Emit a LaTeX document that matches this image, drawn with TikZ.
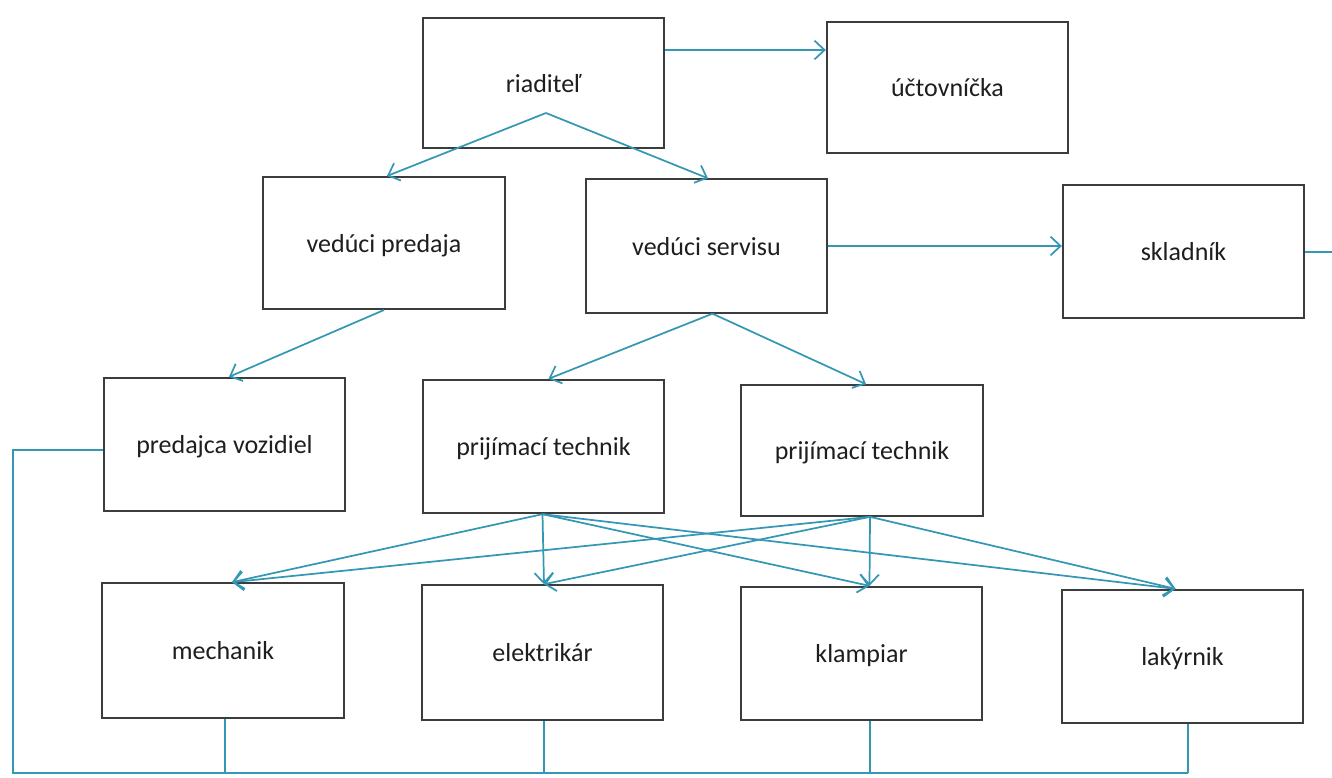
\documentclass[tikz,border=0pt]{standalone}
\usepackage{fontspec}
\setmainfont{Carlito}
\usetikzlibrary{arrows.meta,calc}
\definecolor{conn}{RGB}{52,152,180}
\definecolor{boxline}{RGB}{60,60,60}
\definecolor{txt}{RGB}{30,30,30}
\tikzset{
  orgbox/.style={draw=boxline, line width=1.5pt, fill=white, minimum width=181pt, minimum height=99pt,
    inner sep=0pt, text=txt, font=\fontsize{19.5}{23}\selectfont, text height=1.6em, text depth=0.2em},
  link/.style={draw=conn, line width=1.3pt},
  arr/.style={link, -{Straight Barb[length=7.5pt,width=14pt,line width=1.3pt]}}
}
\begin{document}
\begin{tikzpicture}[x=0.75pt,y=-0.75pt]
\useasboundingbox (0,0) rectangle (1332,778);
% boxes
\node[orgbox, minimum height=97.5pt] (riad) at (543.5,83) {riaditeľ};
\node[orgbox, minimum height=98pt] (ucto) at (947.5,87.5) {účtovníčka};
\node[orgbox] (vp) at (384,243) {vedúci predaja};
\node[orgbox, minimum height=100pt] (vs) at (706.5,246) {vedúci servisu};
\node[orgbox, minimum height=100pt] (skl) at (1183.5,251.5) {skladník};
\node[orgbox, minimum height=100pt] (pv) at (224.5,444.5) {predajca vozidiel};
\node[orgbox, minimum height=100pt] (pt1) at (543.5,446.5) {prijímací technik};
\node[orgbox, minimum height=98pt] (pt2) at (862,450.5) {prijímací technik};
\node[orgbox, minimum height=101pt] (mech) at (223,650.5) {mechanik};
\node[orgbox, minimum height=101pt] (elek) at (542.5,652.5) {elektrikár};
\node[orgbox, minimum height=100pt] (klamp) at (861.5,653.5) {klampiar};
\node[orgbox, minimum height=100pt] (lak) at (1182.5,656.5) {lakýrnik};

% helper coordinates
\coordinate (riadapex) at ($(riad.south)+(2.5,-36)$);
\coordinate (vsfoot) at ($(vs.south)+(6,0)$);
\coordinate (pt1foot) at ($(pt1.south)+(-1,0)$);
\coordinate (pt2foot) at ($(pt2.south)+(8,0)$);
\coordinate (busL) at (13,773);
\coordinate (busR) at (1188,773);
\coordinate (sklout) at (1332,252);
\coordinate (mechfoot) at ($(mech.south)+(2,0)$);
\coordinate (elekfoot) at ($(elek.south)+(1.5,0)$);
\coordinate (klampfoot) at ($(klamp.south)+(8.5,0)$);

% top level
\draw[arr] (riad.east |- 0,50) -- (ucto.west |- 0,50);
\draw[arr] (riadapex) -- ($(vp.north)+(3,0)$);
\draw[arr] (riadapex) -- ($(vs.north)+(1.5,0)$);
\draw[arr] (vp.south) -- ($(pv.north)+(4.5,0)$);
\draw[arr] (vsfoot) -- ($(pt1.north)+(5,0)$);
\draw[arr] (vsfoot) -- ($(pt2.north)+(4,0)$);
\draw[arr] (vs.east) -- (skl.west |- vs.east);
\draw[link] (skl.east |- sklout) -- (sklout);

% technicians to workers
\draw[arr] (pt1foot) -- ($(mech.north)+(9,0)$);
\draw[arr] (pt1foot) -- ($(elek.north)+(1.5,0)$);
\draw[arr] (pt1foot) -- ($(klamp.north)+(8,0)$);
\draw[arr] (pt1foot) -- ($(lak.north)+(-7,0)$);
\draw[arr] (pt2foot) -- ($(mech.north)+(9,0)$);
\draw[arr] (pt2foot) -- ($(elek.north)+(1.5,0)$);
\draw[arr] (pt2foot) -- ($(klamp.north)+(8,0)$);
\draw[arr] (pt2foot) -- ($(lak.north)+(-7,0)$);

% bottom bus
\draw[link] (pv.west |- 0,450) -| (busL) -- (busR);
\draw[link] (mechfoot) -- (mechfoot |- busL);
\draw[link] (elekfoot) -- (elekfoot |- busL);
\draw[link] (klampfoot) -- (klampfoot |- busL);
\draw[link] (busR |- lak.south) -- (busR);
\end{tikzpicture}
\end{document}
